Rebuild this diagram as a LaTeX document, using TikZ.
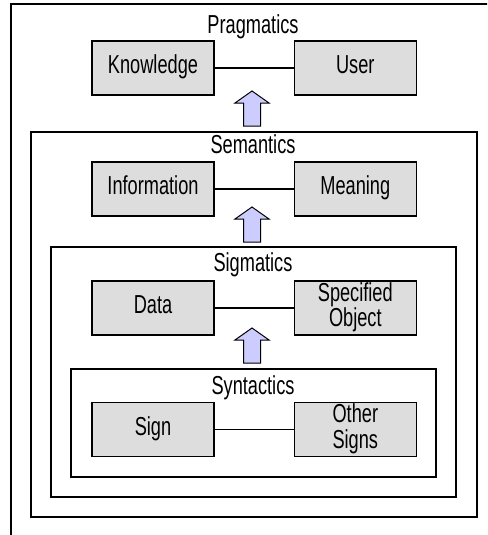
\documentclass[tikz,border=0pt]{standalone}
\usepackage{fontspec}
\setmainfont{Liberation Sans}
\usetikzlibrary{positioning}
\definecolor{boxgray}{HTML}{DDDDDD}
\definecolor{arrowblue}{HTML}{CCCCFF}
% narrow label text, one or more lines
\newcommand{\lbl}[1]{\raisebox{-3.6pt}{\scalebox{0.7}[1]{\begin{tabular}{@{}c@{}}#1\end{tabular}}}}
\tikzset{
  concept/.style={draw, line width=1.3pt, fill=boxgray, minimum width=122pt, minimum height=54pt, inner sep=0pt},
  layer/.style={draw, line width=1.3pt},
  title/.style={inner sep=0pt},
  link/.style={line width=1.3pt},
  every node/.style={font=\fontsize{26}{23}\selectfont},
}
\begin{document}
\begin{tikzpicture}[x=1pt, y=-1pt]
  \useasboundingbox (0,0) rectangle (487,535);
  \clip (0,0) rectangle (487,535);
  % nested layers
  \draw[layer] (11,4) rectangle (500,550);
  \draw[layer] (31,132) rectangle (477,517);
  \draw[layer] (51,247) rectangle (456,497);
  \draw[layer] (71,369) rectangle (436,477);
  % layer titles
  \node[title] (prag) at (253,28) {\lbl{Pragmatics}};
  \node[title] (sem) at (253,148) {\lbl{Semantics}};
  \node[title] (sigm) at (253,266) {\lbl{Sigmatics}};
  \node[title] (synt) at (253,389) {\lbl{Syntactics}};
  % concepts
  \node[concept] (know) at (153,68) {\lbl{Knowledge}};
  \node[concept, right=79pt of know] (user) {\lbl{User}};
  \node[concept] (info) at (153,189) {\lbl{Information}};
  \node[concept, right=79pt of info] (mean) {\lbl{Meaning}};
  \node[concept] (data) at (153,308) {\lbl{Data}};
  \node[concept, right=79pt of data] (obj) {\lbl{Specified\\Object}};
  \node[concept] (sign) at (153,429.5) {\lbl{Sign}};
  \node[concept, right=79pt of sign] (other) {\lbl{Other\\Signs}};
  \draw[link] (know) -- (user);
  \draw[link] (info) -- (mean);
  \draw[link] (data) -- (obj);
  \draw[link] (sign) -- (other);
  % block arrows between layers
  \foreach \t in {91,207,328}
    \draw[line width=1pt, fill=arrowblue, line join=miter]
      (252,\t) -- (269,\t+12) -- (260.5,\t+12) -- (260.5,\t+35)
      -- (243.5,\t+35) -- (243.5,\t+12) -- (235,\t+12) -- cycle;
\end{tikzpicture}
\end{document}
